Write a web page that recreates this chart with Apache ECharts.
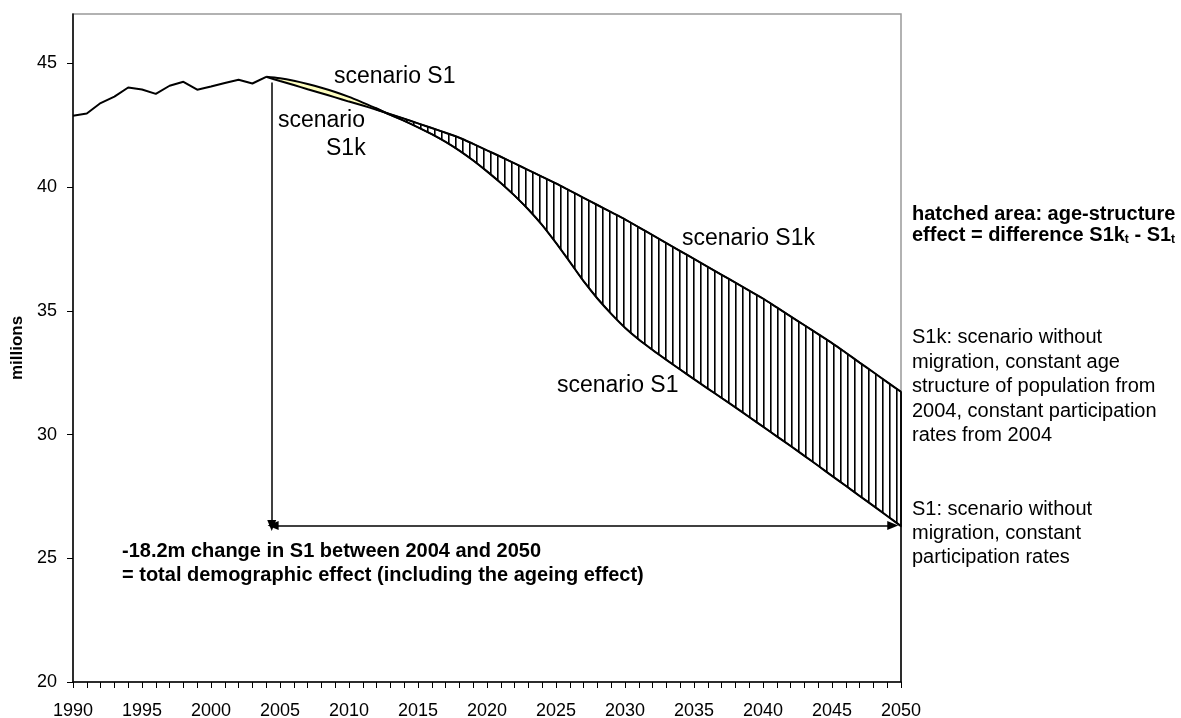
<!DOCTYPE html>
<html>
<head>
<meta charset="utf-8">
<script src="https://cdn.jsdelivr.net/npm/echarts@6/dist/echarts.min.js"></script>
<style>html,body{margin:0;padding:0;background:#fff;}#c{width:1181px;height:718px;}</style>
</head>
<body>
<div id="c"></div>
<script>
// ---- data ----
const histYears = [1990,1991,1992,1993,1994,1995,1996,1997,1998,1999,2000,2001,2002,2003,2004];
const histValues = [42.89,42.98,43.40,43.66,44.03,43.95,43.77,44.10,44.26,43.94,44.07,44.21,44.34,44.19,44.46];

const projYears = [2004,2005,2006,2007,2008,2009,2010,2011,2012,2013,2014,2015,2016,2017,2018,2019,2020,2021,2022,2023,2024,2025,2026,2027,2028,2029,2030,2031,2032,2033,2034,2035,2036,2037,2038,2039,2040,2041,2042,2043,2044,2045,2046,2047,2048,2049,2050];
const s1kValues = [44.46,44.29,44.13,43.96,43.80,43.63,43.46,43.30,43.13,42.95,42.77,42.58,42.39,42.20,42.00,41.75,41.49,41.23,40.96,40.69,40.42,40.15,39.86,39.57,39.28,38.99,38.70,38.38,38.06,37.74,37.42,37.10,36.78,36.46,36.14,35.82,35.50,35.14,34.78,34.42,34.06,33.70,33.31,32.91,32.52,32.12,31.73];
const s1Values = [44.46,44.40,44.30,44.17,44.02,43.85,43.65,43.42,43.18,42.92,42.68,42.42,42.14,41.83,41.48,41.08,40.64,40.17,39.66,39.10,38.47,37.75,36.98,36.20,35.50,34.88,34.32,33.84,33.42,33.02,32.63,32.24,31.86,31.48,31.10,30.71,30.32,29.93,29.54,29.14,28.74,28.33,27.93,27.52,27.12,26.71,26.30];

const yTicks = [20,25,30,35,40,45];
const xLabelStep = 5;

// annotation anchors (data coordinates)
const arrowYear = 2004.4;
const arrowTop = 44.23;
const arrowLevel = 26.33;
const arrowEndYear = 2049.4;
const crossIndex = 9; // index in projYears where S1 drops below S1k (~2013)

// ---- chart ----
const FONT = '"Liberation Sans", Arial, sans-serif';
const chart = echarts.init(document.getElementById('c'), null, {renderer: 'canvas'});

const pc = document.createElement('canvas');
pc.width = 7; pc.height = 8;
const pctx = pc.getContext('2d');
pctx.fillStyle = '#000';
pctx.fillRect(0, 0, 1.6, 8);
const hatch = {image: pc, repeat: 'repeat'};

const zip = (xs, ys) => xs.map((x, i) => [x, ys[i]]);

function polyPoints(api, from, to) {
  const pts = [];
  for (let i = from; i <= to; i++) pts.push(api.coord([projYears[i], s1kValues[i]]));
  for (let i = to; i >= from; i--) pts.push(api.coord([projYears[i], s1Values[i]]));
  return pts;
}

const last = projYears.length - 1;

const option = {
  animation: false,
  backgroundColor: '#fff',
  grid: {left: 73, right: 280, top: 14, bottom: 36, containLabel: false, outerBoundsMode: 'none',
         show: true, borderColor: '#999', borderWidth: 1.5, backgroundColor: 'transparent'},
  xAxis: {
    type: 'value', min: 1990, max: 2050, interval: 1,
    axisLine: {lineStyle: {color: '#000', width: 1.5}},
    axisTick: {length: 6, lineStyle: {color: '#000', width: 1}},
    axisLabel: {
      color: '#000', fontFamily: FONT, fontSize: 18, margin: 20,
      formatter: v => (v % xLabelStep === 0 ? String(v) : '')
    },
    splitLine: {show: false}
  },
  yAxis: {
    type: 'value', min: 20, max: 47, interval: 5,
    name: 'millions', nameLocation: 'middle', nameGap: 46, nameRotate: 90,
    nameTextStyle: {color: '#000', fontFamily: FONT, fontSize: 17, fontWeight: 'bold'},
    axisLine: {show: true, lineStyle: {color: '#000', width: 1.5}},
    axisTick: {show: true, length: 6, customValues: yTicks, lineStyle: {color: '#000', width: 1}},
    axisLabel: {color: '#000', fontFamily: FONT, fontSize: 18, margin: 16, customValues: yTicks},
    splitLine: {show: false}
  },
  series: [
    {
      type: 'custom', z: 1, silent: true,
      data: [[projYears[0], s1Values[0]]],
      renderItem: function (params, api) {
        return {
          type: 'group',
          children: [
            {type: 'polygon', shape: {points: polyPoints(api, 0, crossIndex)}, style: {fill: '#ffffc0', stroke: null}},
            {type: 'polygon', shape: {points: polyPoints(api, crossIndex - 1, last)}, style: {fill: hatch, stroke: '#000', lineWidth: 1.5}}
          ]
        };
      }
    },
    {
      type: 'line', z: 3, data: zip(histYears, histValues), symbol: 'none',
      lineStyle: {color: '#000', width: 2}, silent: true,
      markLine: {
        silent: true, animation: false,
        label: {show: false},
        symbolSize: [9, 11],
        lineStyle: {color: '#000', width: 1.5, type: 'solid'},
        data: [
          [{coord: [arrowYear, arrowTop], symbol: 'none'}, {coord: [arrowYear, arrowLevel], symbol: 'triangle'}],
          [{coord: [arrowYear + 0.1, arrowLevel], symbol: 'triangle'}, {coord: [arrowEndYear, arrowLevel], symbol: 'triangle'}],
          [{coord: [projYears[last], 20], symbol: 'none'}, {coord: [projYears[last], s1kValues[last]], symbol: 'none'}]
        ]
      }
    },
    {type: 'line', z: 3, data: zip(projYears, s1kValues), symbol: 'none', smooth: 0.3, lineStyle: {color: '#000', width: 2}, silent: true},
    {type: 'line', z: 3, data: zip(projYears, s1Values), symbol: 'none', smooth: 0.3, lineStyle: {color: '#000', width: 2}, silent: true}
  ],
  graphic: [
    {type: 'text', left: 334, top: 65, style: {text: 'scenario S1', font: '23px ' + FONT, fill: '#000'}},
    {type: 'text', left: 278, top: 109, style: {text: 'scenario', font: '23px ' + FONT, fill: '#000'}},
    {type: 'text', left: 326, top: 137, style: {text: 'S1k', font: '23px ' + FONT, fill: '#000'}},
    {type: 'text', left: 682, top: 227, style: {text: 'scenario S1k', font: '23px ' + FONT, fill: '#000'}},
    {type: 'text', left: 557, top: 374, style: {text: 'scenario S1', font: '23px ' + FONT, fill: '#000'}},
    {
      type: 'text', left: 912, top: 204,
      style: {
        text: 'hatched area: age-structure\neffect = difference S1k{s|t} - S1{s|t}',
        font: 'bold 20px ' + FONT, fill: '#000', lineHeight: 21,
        rich: {s: {fontSize: 12, fontWeight: 'bold', fontFamily: FONT, verticalAlign: 'bottom', lineHeight: 12, fill: '#000'}}
      }
    },
    {
      type: 'text', left: 912, top: 325.5,
      style: {text: 'S1k: scenario without\nmigration, constant age\nstructure of population from\n2004, constant participation\nrates from 2004', font: '20px ' + FONT, fill: '#000', lineHeight: 24.5}
    },
    {
      type: 'text', left: 912, top: 497,
      style: {text: 'S1: scenario without\nmigration, constant\nparticipation rates', font: '20px ' + FONT, fill: '#000', lineHeight: 24.3}
    },
    {
      type: 'text', left: 122, top: 539.5,
      style: {text: '-18.2m change in S1 between 2004 and 2050\n= total demographic effect (including the ageing effect)', font: 'bold 20px ' + FONT, fill: '#000', lineHeight: 24.3}
    }
  ]
};
chart.setOption(option);
</script>
</body>
</html>
